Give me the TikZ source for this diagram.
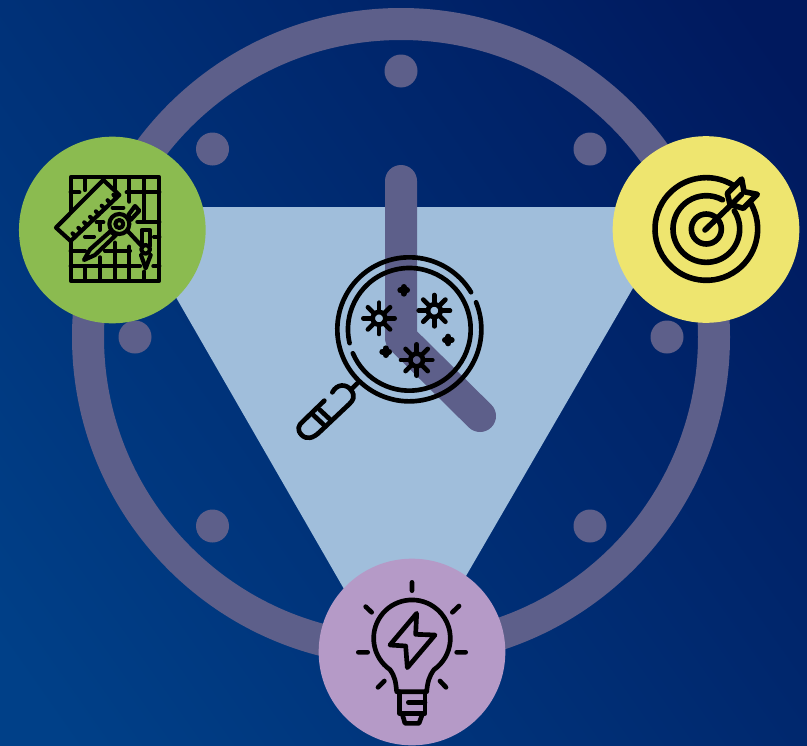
\documentclass[tikz,border=0pt]{standalone}
\usetikzlibrary{calc}
\definecolor{bgA}{HTML}{004088}
\definecolor{bgB}{HTML}{00195E}
\definecolor{clockc}{HTML}{5D5F8A}
\definecolor{tri}{HTML}{A0BEDB}
\definecolor{greenc}{HTML}{8BBB50}
\definecolor{yellowc}{HTML}{EEE56F}
\definecolor{purplec}{HTML}{B59AC7}
\tikzset{
  dot/.style={fill=clockc},
  badge/.style={circle,minimum size=140pt,inner sep=0pt},
  ink/.style={draw=black,line width=3.5pt,line cap=round,line join=round},
  thinink/.style={draw=black,line width=3.1pt,line cap=round,line join=round},
  boldink/.style={draw=black,line width=4.2pt,line cap=round,line join=round},
  iconscale/.style={x=.25pt,y=-.25pt}
}
\begin{document}
\begin{tikzpicture}[x=.75pt,y=-.75pt]
\useasboundingbox (0,0) rectangle (807,746);
\begin{scope}
\clip (0,0) rectangle (807,746);
\shade[left color=bgA,right color=bgB,shading angle=125] (-100,-100) rectangle (907,846);
\end{scope}
% clock
\draw[clockc,line width=24pt] (401,337) circle[radius=313];
\foreach \p in {(401,71),(212.5,149),(590,149),(135,337),(667,337),(212.5,526),(590,526)}
  \fill[dot] \p circle[radius=16.5];
% triangle
\fill[tri] (124,207) -- (680,207) -- (401,688) -- cycle;
% hands
\draw[clockc,line width=24pt,line cap=round,line join=round] (401,181) -- (401,338) -- (480,416);
% badges
\node[badge,fill=greenc] (design) at (112.3,230) {};
\node[badge,fill=yellowc] (goal) at (706,229.5) {};
\node[badge,fill=purplec] (idea) at (412,652) {};
% magnifier
\begin{scope}[shift={(280,240)},iconscale]
\draw[ink] (388,268) ++(-22:216) arc[start angle=-22,end angle=329,radius=216];
\draw[ink] (388,268) ++(167:184) arc[start angle=167,end angle=517,radius=184];
\draw[ink] (232,430) -- (215,447);
\draw[ink] (157,457) .. controls (170,432) and (198,430) .. (213,450) .. controls (228,470) and (218,482) .. (208,492) -- (120,575) .. controls (100,595) and (80,600) .. (65,585) .. controls (50,570) and (55,555) .. (68,545) -- (133,482);
\draw[ink] (100,525) -- (135,558);
\draw[ink] (120,510) -- (152,540);
\foreach \c in {(297,235),(463,212),(410,360)}{
  \draw[ink] \c circle[radius=19];
  \foreach \a in {0,45,...,315}
    \draw[ink] \c ++(\a:19) -- ++(\a:28);
}
\foreach \c in {(371,151),(505,300),(317,335)}{
  \draw[draw=black,line width=4.5pt,line cap=round] \c ++(-10,0) -- ++(20,0);
  \draw[draw=black,line width=4.5pt,line cap=round] \c ++(0,-10) -- ++(0,20);
}
\end{scope}
% blueprint
\begin{scope}[shift={(40,160)},iconscale]
\draw[thinink] (92,362) -- (92,52) -- (358,52) -- (358,362) -- cycle;
\draw[thinink] (135,52) -- (135,90) (225,52) -- (225,90) (268,52) -- (268,125) (313,52) -- (313,185);
\draw[thinink] (135,318) -- (135,362) (180,292) -- (180,362) (225,248) -- (225,362) (268,260) -- (268,362) (313,335) -- (313,362);
\draw[thinink] (92,97) -- (118,97) (260,97) -- (358,97) (292,185) -- (358,185) (342,230) -- (358,230);
\draw[thinink] (92,272) -- (135,272) (195,272) -- (270,272) (92,318) -- (300,318) (340,318) -- (358,318);
\draw[thinink] (218,143) -- (250,143) (135,230) -- (162,230) (170,187) -- (190,187) (180,187) -- (180,210);
% ruler
\draw[thinink,fill=greenc] (48,203) -- (190,60) -- (238,105) -- (92,243) -- cycle;
\foreach \t in {0.1,0.22,...,0.95}
  \draw[thinink] ($(92,243)!\t!(238,105)$) -- ++(-9,-9);
% compass
\draw[thinink,fill=greenc] (265,165) -- (285,138) -- (298,152) -- (272,180) -- cycle;
\draw[thinink,fill=greenc] (210,215) -- (150,268) -- (132,300) -- (165,285) -- (228,225) -- cycle;
\draw[thinink] (262,212) -- (305,258);
\draw[thinink,fill=greenc] (305,258) -- (305,210) -- (330,210) -- (330,258);
\draw[thinink,fill=greenc] (303,285) -- (317,325) -- (332,285);
\draw[thinink,fill=greenc] (238,192) circle[radius=30];
\draw[thinink,fill=greenc] (238,192) circle[radius=12];
\draw[thinink,fill=greenc] (317,268) circle[radius=13];
\end{scope}
% target
\begin{scope}[shift={(640,165)},iconscale]
\draw[boldink] (199,192) ++(-31:154) arc[start angle=-31,end angle=301,radius=154];
\draw[boldink] (199,192) ++(-33:100) arc[start angle=-33,end angle=299,radius=100];
\draw[boldink] (199,192) circle[radius=45];
\draw[boldink] (195,195) -- (275,118);
\draw[boldink,fill=yellowc] (262,85) -- (305,42) -- (312,80) -- (352,88) -- (310,130) -- (270,118) -- cycle;
\draw[boldink] (275,118) -- (305,88);
\end{scope}
% bulb
\begin{scope}[shift={(345,575)},iconscale]
\draw[ink] (155,350) .. controls (152,320) and (150,305) .. (135,284) arc[start angle=125,end angle=415,radius=115] .. controls (252,305) and (248,320) .. (245,350) -- cycle;
\draw[ink] (163,350) -- (163,415) -- (240,415) -- (240,350);
\draw[ink] (190,382) -- (240,382);
\draw[ink] (172,418) -- (180,445) -- (222,445) -- (232,418);
\draw[ink] (201,22) -- (201,47) (62,95) -- (80,112) (342,93) -- (322,112) (40,232) -- (68,232) (335,232) -- (362,232) (99,337) -- (118,318) (285,318) -- (303,337);
\draw[ink] (215,115) -- (135,210) -- (182,213) -- (187,278) -- (270,180) -- (212,178) -- cycle;
\end{scope}
\end{tikzpicture}
\end{document}
